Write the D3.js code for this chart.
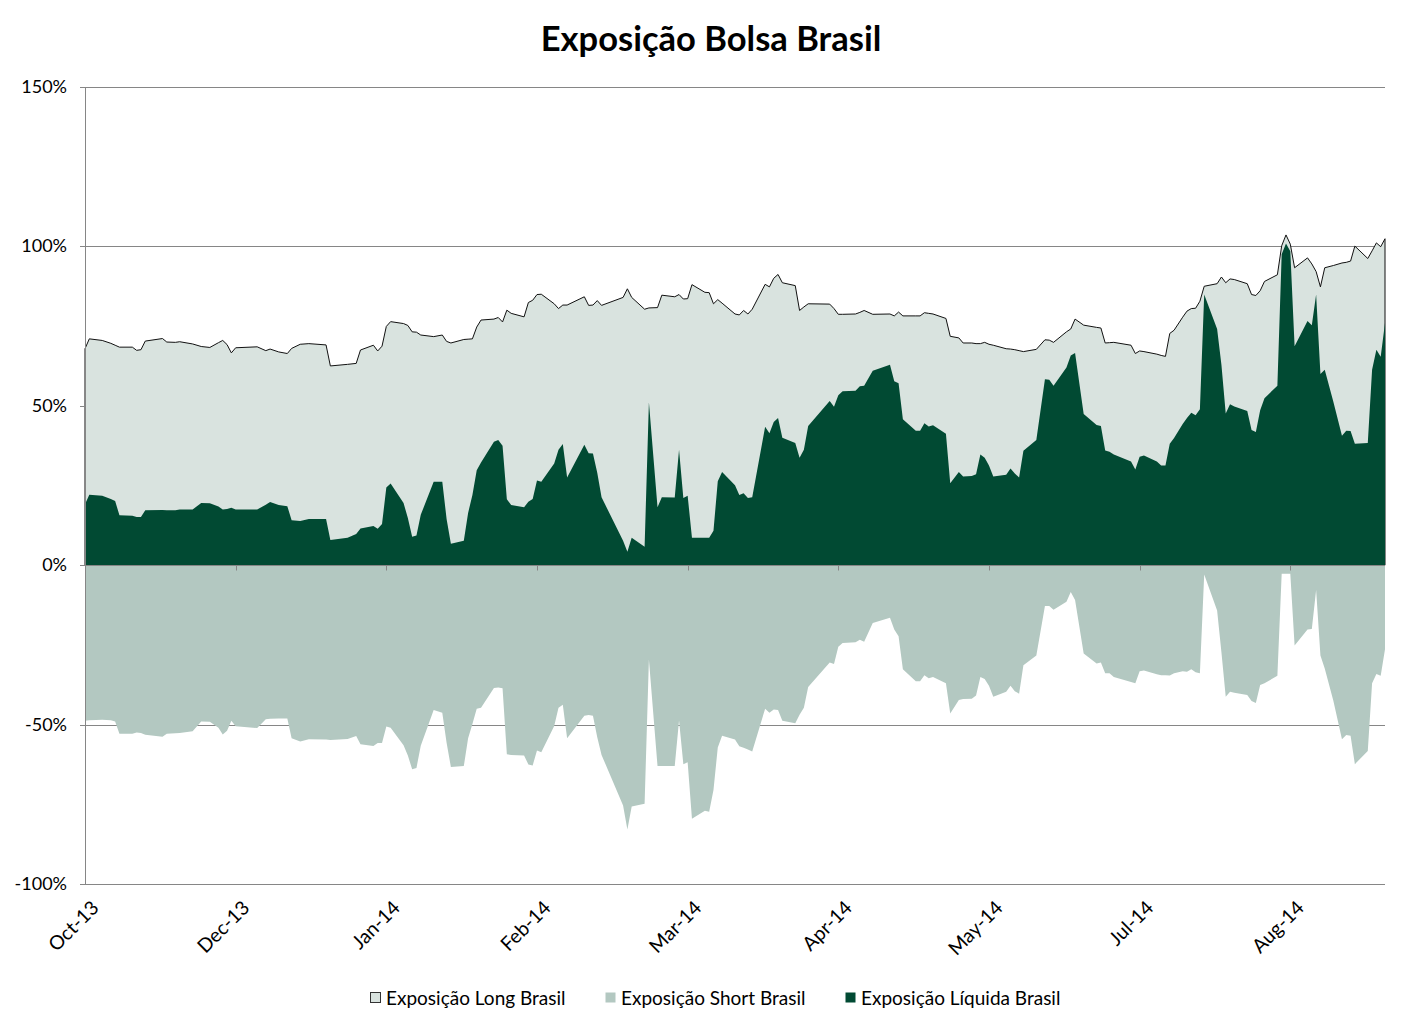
<!DOCTYPE html>
<html><head><meta charset="utf-8">
<script src="https://cdn.jsdelivr.net/npm/d3@7"></script>
<style>
body{margin:0;background:#fff;}
svg{display:block;font-family:Lato,"Open Sans",sans-serif;}
</style>
</head><body>
<svg id="chart" width="1422" height="1030"></svg>
<script>
// day number counted from the first observation (31 Oct 2013)
const days = [
0,1,4,6,7,8,11,12,13,14,
18,19,21,22,25,27,29,31,32,33,
34,35,40,42,43,45,47,48,50,52,
56,57,61,63,64,67,68,69,70,71,
74,75,76,77,78,81,83,84,85,88,
89,90,91,92,95,96,97,98,99,102,
103,104,105,106,109,110,111,112,116,117,
118,119,120,125,126,127,130,131,133,134,
137,138,139,140,141,144,145,146,147,148,
151,152,153,154,155,158,159,160,161,162,
165,166,167,168,173,174,175,176,179,180,
181,183,187,188,189,190,193,194,195,196,
197,200,201,203,204,206,207,208,209,210,
211,214,215,216,217,218,221,223,224,225,
228,229,230,232,235,236,237,238,239,243,
244,245,246,249,250,251,252,253,255,256,
257,258,259,260,263,264,265,266,267,270,
271,272,273,274,277,278,279,280,281,284,
285,286,287,288,290,292,293,294,295,298,
299,300,301,302];

const longExp = [
67.9,71.0,70.5,69.6,69.0,68.4,68.4,67.4,67.6,70.3,
71.1,70.0,69.9,70.1,69.4,68.6,68.3,69.8,70.5,69.2,
66.6,68.2,68.5,67.3,67.8,66.9,66.4,68.0,69.3,69.5,
69.1,62.5,63.0,63.3,67.5,69.0,67.2,68.7,74.9,76.4,
75.8,75.2,73.2,73.1,72.2,71.7,72.2,70.2,69.7,70.8,
70.9,71.0,74.7,76.9,77.2,77.7,76.3,80.0,79.0,77.9,
82.4,83.1,84.9,85.0,82.0,80.5,81.6,81.6,84.2,81.5,
81.6,83.0,81.5,84.0,86.7,84.0,80.3,80.7,80.8,84.7,
84.2,84.9,83.5,83.6,88.0,85.6,85.5,82.0,83.3,82.2,
78.8,78.5,79.9,78.8,80.3,88.1,87.3,90.0,91.2,88.6,
87.7,79.9,81.0,82.0,81.9,80.5,78.7,78.7,78.8,79.3,
79.9,78.7,78.8,78.2,79.4,78.2,78.2,78.2,79.2,79.0,
78.8,77.4,71.8,71.3,69.7,69.7,69.5,69.5,69.9,69.3,
69.0,67.9,67.8,67.6,67.3,67.0,67.7,70.7,70.6,69.9,
73.2,74.1,77.2,75.3,74.6,74.4,69.7,69.8,69.9,69.0,
66.4,67.2,67.0,66.2,65.8,65.5,72.7,73.7,77.8,79.7,
80.5,80.6,82.8,87.5,88.3,90.4,88.6,89.8,89.6,88.3,
84.9,84.6,86.1,89.0,91.1,100.2,103.6,100.7,93.3,96.4,
94.5,92.1,87.3,93.3,94.0,94.8,95.0,95.4,100.1,96.2,
98.6,101.1,99.9,102.4];

const shortExp = [
-48.8,-48.6,-48.5,-48.6,-49.0,-52.9,-52.9,-52.5,-52.6,-53.2,
-53.8,-52.9,-52.7,-52.6,-52.1,-49.0,-49.1,-51.0,-53.1,-51.9,
-48.8,-50.5,-51.1,-48.3,-48.2,-48.1,-48.1,-54.3,-55.3,-54.6,
-54.7,-54.8,-54.5,-53.6,-56.2,-56.7,-55.8,-55.8,-50.6,-51.0,
-56.5,-59.7,-64.0,-63.6,-56.6,-45.4,-46.3,-55.7,-63.3,-63.0,
-54.3,-49.8,-45.0,-44.7,-38.5,-38.4,-38.6,-59.3,-59.5,-59.7,
-62.5,-62.8,-58.1,-58.7,-50.4,-44.7,-43.8,-54.3,-47.2,-47.0,
-47.2,-54.0,-59.5,-75.4,-82.9,-75.7,-74.8,-29.6,-63.0,-63.0,
-63.0,-48.7,-62.4,-61.8,-79.5,-77.0,-77.3,-70.5,-57.2,-53.5,
-54.7,-56.8,-57.3,-57.8,-58.4,-45.0,-46.3,-45.3,-45.4,-48.8,
-49.6,-46.9,-44.7,-38.2,-30.5,-31.0,-25.6,-24.4,-24.2,-23.4,
-24.0,-18.1,-16.5,-20.2,-22.3,-32.6,-36.4,-36.4,-34.5,-35.5,
-35.1,-37.0,-46.5,-42.3,-42.0,-41.9,-40.9,-35.1,-35.7,-37.8,
-41.3,-39.7,-37.8,-39.5,-40.3,-31.4,-28.3,-12.8,-12.8,-14.0,
-11.5,-8.4,-10.9,-27.7,-30.8,-30.5,-33.9,-33.9,-35.1,-36.6,
-37.0,-33.3,-33.0,-34.2,-34.5,-34.5,-34.6,-33.9,-33.3,-33.4,
-32.6,-33.6,-33.9,-2.9,-14.2,-27.3,-41.3,-39.7,-40.0,-40.7,
-42.6,-43.2,-37.6,-37.0,-34.7,-2.7,-2.7,-2.7,-25.2,-20.2,
-20.0,-7.8,-28.3,-32.4,-42.5,-54.6,-53.3,-53.5,-62.4,-58.3,
-37.0,-34.1,-34.7,-26.4];

const netExp = [
19.1,22.1,21.8,20.8,20.1,15.7,15.5,15.1,15.1,17.2,
17.3,17.2,17.2,17.5,17.5,19.5,19.4,18.4,17.5,17.6,
18.0,17.5,17.5,19.0,19.8,18.9,18.5,14.1,13.9,14.5,
14.5,7.9,8.6,9.8,11.5,12.3,11.4,12.9,24.4,25.6,
19.5,14.8,8.9,9.3,15.8,26.2,26.2,14.5,6.7,7.7,
16.4,22.0,29.8,32.2,38.7,39.3,37.5,20.7,18.9,18.2,
19.9,20.8,26.6,26.2,31.9,36.2,38.0,27.5,37.8,35.1,
35.0,29.0,21.3,7.7,4.2,8.6,5.8,51.1,18.2,21.3,
21.2,36.2,21.1,21.8,8.6,8.6,8.6,10.8,26.3,29.2,
25.1,22.0,22.6,21.1,21.3,43.4,41.4,44.9,46.2,40.0,
38.3,33.7,36.2,43.7,51.5,49.7,53.3,54.6,54.7,56.1,
56.3,61.0,62.9,57.7,57.1,45.8,42.2,42.2,44.5,43.5,
43.9,41.2,25.7,29.2,27.8,28.0,28.5,34.7,33.7,31.3,
27.8,28.4,30.3,28.8,27.5,35.9,39.3,58.3,58.2,56.3,
62.0,65.8,66.6,47.4,44.0,43.7,36.0,35.6,34.7,32.5,
30.0,34.0,34.4,32.5,31.3,31.3,38.1,39.9,44.3,46.2,
47.8,47.0,48.9,84.9,74.1,62.9,47.6,50.5,49.8,48.4,
42.4,41.8,48.6,52.4,56.3,97.5,100.9,98.5,68.7,76.6,
75.3,84.9,60.0,61.3,51.3,40.6,42.2,42.1,38.1,38.3,
61.3,67.6,65.4,76.0];

const tickDays = [0,35,70,105,140,175,210,245,280];
const tickLabels = ["Oct-13","Dec-13","Jan-14","Feb-14","Mar-14","Apr-14","May-14","Jul-14","Aug-14"];
const yTicks = [-100,-50,0,50,100,150];
const seriesNames = ["Exposição Long Brasil","Exposição Short Brasil","Exposição Líquida Brasil"];
const titleText = "Exposição Bolsa Brasil";
const dayDomain = [0, 302];

const svg = d3.select("#chart");
const L = 85, R = 1385, T = 87, B = 884;
const x = d3.scaleLinear().domain(dayDomain).range([L, R]);
const y = d3.scaleLinear().domain([-100, 150]).range([B, T]);
const gridCol = "#868686";
const fills = ["#d9e3df", "#b3c8c1", "#014a33"];

// title
svg.append("text").attr("x", 711).attr("y", 51).attr("text-anchor", "middle")
  .attr("font-size", 34.5).attr("font-weight", 700).attr("fill", "#000").text(titleText);

// gridlines
svg.append("g").selectAll("line").data(yTicks.filter(v => v !== 0)).join("line")
  .attr("x1", L).attr("x2", R).attr("y1", d => Math.round(y(d)) + 0.5).attr("y2", d => Math.round(y(d)) + 0.5)
  .attr("stroke", gridCol).attr("stroke-width", 1);

function series(vals) { return days.map((d, i) => ({ d, v: vals[i] })); }
const area = d3.area().x(p => x(p.d)).y0(y(0)).y1(p => y(p.v));

svg.append("path").datum(series(longExp)).attr("d", area)
  .attr("fill", fills[0]).attr("stroke", "#111").attr("stroke-width", 1).attr("stroke-linejoin", "round");
svg.append("path").datum(series(shortExp)).attr("d", area).attr("fill", fills[1]);
svg.append("path").datum(series(netExp)).attr("d", area).attr("fill", fills[2]);

// horizontal axis at zero
const y0 = Math.round(y(0)) + 0.5;
svg.append("line").attr("x1", L).attr("x2", R).attr("y1", y0).attr("y2", y0).attr("stroke", gridCol);
svg.append("g").selectAll("line").data(tickDays).join("line")
  .attr("x1", d => Math.round(x(d)) + 0.5).attr("x2", d => Math.round(x(d)) + 0.5)
  .attr("y1", y0).attr("y2", y0 + 5).attr("stroke", gridCol);

// vertical axis
svg.append("line").attr("x1", L + 0.5).attr("x2", L + 0.5).attr("y1", T).attr("y2", B + 1).attr("stroke", gridCol);
svg.append("g").selectAll("line").data(yTicks).join("line")
  .attr("x1", L - 5).attr("x2", L).attr("y1", d => Math.round(y(d)) + 0.5).attr("y2", d => Math.round(y(d)) + 0.5)
  .attr("stroke", gridCol);
svg.append("g").selectAll("text").data(yTicks).join("text")
  .attr("x", 67).attr("y", d => y(d) + 6).attr("text-anchor", "end")
  .attr("font-size", 18).attr("fill", "#000").text(d => d + "%");

// x labels (rotated)
svg.append("g").selectAll("text").data(tickDays).join("text")
  .attr("transform", d => `translate(${x(d) + 15},${909}) rotate(-45)`)
  .attr("text-anchor", "end").attr("font-size", 19.5).attr("fill", "#000")
  .text((d, i) => tickLabels[i]);

// legend
const legX = [370, 605, 845];
const lg = svg.append("g");
seriesNames.forEach((name, i) => {
  lg.append("rect").attr("x", legX[i] + 0.5).attr("y", 992.5).attr("width", 10).attr("height", 10)
    .attr("fill", fills[i]).attr("stroke", i === 0 ? "#333" : "none");
  lg.append("text").attr("x", legX[i] + 16).attr("y", 1004.5).attr("font-size", 19).attr("fill", "#000").text(name);
});
</script>
</body></html>
